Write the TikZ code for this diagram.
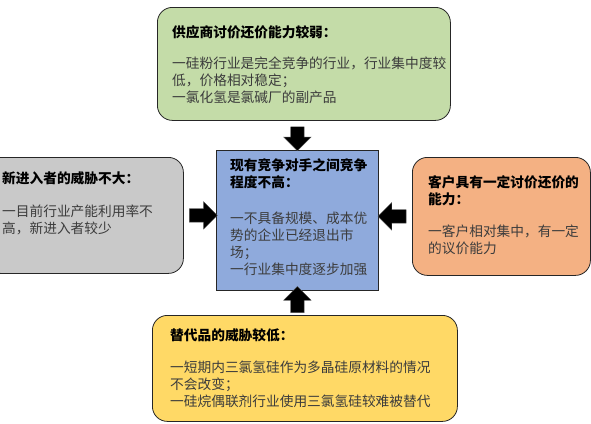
\documentclass[tikz,border=0pt]{standalone}
\usepackage{fontspec}
\usepackage{tikz}
\usetikzlibrary{shapes.arrows, positioning, calc}
\newfontfamily\cjk{Noto Sans CJK SC}
\definecolor{supgreen}  {RGB}{196, 220, 168}
\definecolor{rivalblue} {RGB}{143, 170, 220}
\definecolor{entgray}   {RGB}{201, 201, 201}
\definecolor{buyorange} {RGB}{244, 177, 131}
\definecolor{subyellow} {RGB}{255, 217, 102}
\definecolor{bodygray}  {RGB}{60,  60,  60}

\begin{document}
\begin{tikzpicture}[x=1pt,y=-1pt,
		forcebox/.style={draw=black!85, line width=0.8pt, rounded corners=15pt, anchor=north west, inner sep=0pt},
		forcetext/.style={anchor=north west, inner sep=0pt, align=left, font=\cjk\fontsize{13.7}{17}\selectfont, text=bodygray},
		blockarrow/.style={single arrow, fill=black, draw=black!70, inner sep=6.5pt, single arrow head extend=7pt, minimum height=26pt}
	]
	\useasboundingbox (0,0) rectangle (591,423);
	% boxes
	\node[forcebox, fill=supgreen, minimum width=293, minimum height=113] (supplier) at (157,7) {};
	\node[forcebox, fill=entgray, minimum width=198, minimum height=116] (entrant) at (-15,157) {};
	\node[forcebox, fill=rivalblue, rounded corners=0pt, minimum width=162, minimum height=140] (rivalry) at (216,150) {};
	\node[forcebox, fill=buyorange, minimum width=178, minimum height=118] (buyer) at (412,157) {};
	\node[forcebox, fill=subyellow, minimum width=305, minimum height=106] (substitute) at (152,315) {};
	% texts
	\node[forcetext] (suppliertext) at (172,25) {\textcolor{black}{\bfseries 供应商讨价还价能力较弱：}\\[14pt]
		一硅粉行业是完全竞争的行业，行业集中度较\\低，价格相对稳定；\\一氯化氢是氯碱厂的副产品};
	\node[forcetext] (entranttext) at (2,171) {\textcolor{black}{\bfseries 新进入者的威胁不大：}\\[16pt]
		一目前行业产能利用率不\\高，新进入者较少};
	\node[forcetext] (rivalrytext) at (230,158) {\textcolor{black}{\bfseries 现有竞争对手之间竞争}\\\textcolor{black}{\bfseries 程度不高：}\\[19pt]
		一不具备规模、成本优\\势的企业已经退出市\\场；\\一行业集中度逐步加强};
	\node[forcetext] (buyertext) at (428,175) {\textcolor{black}{\bfseries 客户具有一定讨价还价的}\\\textcolor{black}{\bfseries 能力：}\\[15pt]
		一客户相对集中，有一定\\的议价能力};
	\node[forcetext] (substitutetext) at (170,328) {\textcolor{black}{\bfseries 替代品的威胁较低：}\\[15pt]
		一短期内三氯氢硅作为多晶硅原材料的情况\\不会改变；\\一硅烷偶联剂行业使用三氯氢硅较难被替代};
	% arrows
	\node[blockarrow, rotate=-90, minimum height=24pt] (toparrow) at ($(rivalry.north)!0.5!(rivalry.north |- supplier.south)$) {};
	\node[blockarrow, minimum height=28pt] (leftarrow) at ($(entrant.east)!0.5!(rivalry.west |- entrant.east)$) {};
	\node[blockarrow, rotate=180, minimum height=28pt] (rightarrow) at ($(buyer.west)!0.5!(rivalry.east |- buyer.west)$) {};
	\node[blockarrow, rotate=90] (bottomarrow) at ($(rivalry.south)!0.5!(rivalry.south |- substitute.north)$) {};
\end{tikzpicture}
\end{document}
